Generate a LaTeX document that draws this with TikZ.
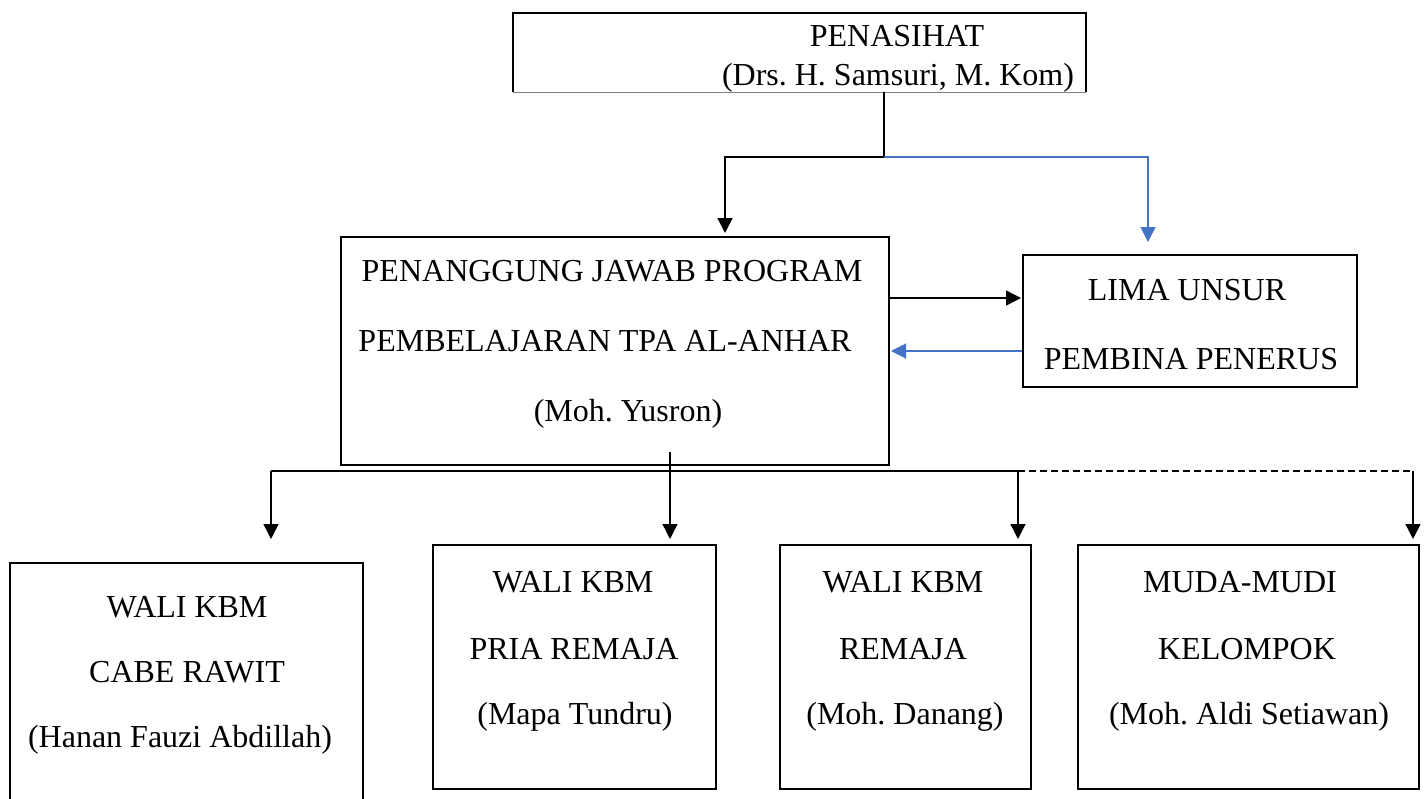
\documentclass[tikz,border=0pt]{standalone}
\usepackage{fontspec}
\setmainfont{Liberation Serif}
\usetikzlibrary{arrows.meta}
\definecolor{wordblue}{HTML}{4472C4}
\tikzset{
  box/.style={draw=black, line width=2pt, fill=none, inner sep=0pt},
  txt/.style={inner sep=0pt, font=\fontsize{32}{32}\selectfont\frenchspacing, anchor=base},
  conn/.style={line width=1.4pt, draw=black},
  tip/.style={-{Triangle[length=15pt,width=15pt]}},
}
\begin{document}
\begin{tikzpicture}[x=1pt,y=-1pt]
\useasboundingbox (0,0) rectangle (1426,798);
\fill[white] (0,0) rectangle (1426,798);
% top box
\node[inner sep=0pt, minimum width=573pt, minimum height=79pt] (pen) at (799.5,52.5) {};
\draw[line width=2pt] (pen.south west) -- (pen.north west) -- (pen.north east) -- (pen.south east);
\draw[line width=1pt, draw=gray] (pen.south west) -- (pen.south east);
\node[txt] (pent1) at (897,46) {PENASIHAT};
\node[txt] (pent2) at (898,85) {(Drs. H. Samsuri, M. Kom)};
% middle box
\node[box, minimum width=548pt, minimum height=228pt] (pj) at (615,351) {};
\node[txt] (pj1) at (612,281) {PENANGGUNG JAWAB PROGRAM};
\node[txt] (pj2) at (605,351) {PEMBELAJARAN TPA AL-ANHAR};
\node[txt] (pj3) at (628,421) {(Moh. Yusron)};
% lima box
\node[box, minimum width=334pt, minimum height=132pt] (lima) at (1190,321) {};
\node[txt] (lima1) at (1187,300) {LIMA UNSUR};
\node[txt] (lima2) at (1191,369) {PEMBINA PENERUS};
% bottom boxes
\node[box, minimum width=353pt, minimum height=260pt] (b1) at (186.5,693) {};
\node[txt] (b1a) at (187,617) {WALI KBM};
\node[txt] (b1b) at (187,682) {CABE RAWIT};
\node[txt] (b1c) at (180,747) {(Hanan Fauzi Abdillah)};
\node[box, minimum width=283pt, minimum height=244pt] (b2) at (574.5,667) {};
\node[txt] (b2a) at (573,592) {WALI KBM};
\node[txt] (b2b) at (574,659) {PRIA REMAJA};
\node[txt] (b2c) at (575,724) {(Mapa Tundru)};
\node[box, minimum width=251pt, minimum height=244pt] (b3) at (905.5,667) {};
\node[txt] (b3a) at (903,592) {WALI KBM};
\node[txt] (b3b) at (903,659) {REMAJA};
\node[txt] (b3c) at (905,724) {(Moh. Danang)};
\node[box, minimum width=341pt, minimum height=244pt] (b4) at (1248.5,667) {};
\node[txt] (b4a) at (1240,592) {MUDA-MUDI};
\node[txt] (b4b) at (1247,659) {KELOMPOK};
\node[txt] (b4c) at (1249,724) {(Moh. Aldi Setiawan)};
% connectors top
\coordinate (j1) at (884,157);
\coordinate (jl) at (725,157);
\coordinate (jr) at (1148,157);
\draw[conn] (pen.south -| j1) -- (j1);
\draw[conn, tip] (j1) -- (jl) -- (725,233);
\draw[conn, draw=wordblue, tip, line width=1.2pt] (j1) -- (jr) -- (1148,242);
% between pj and lima
\draw[conn, tip] (pj.east |- 0,298) -- (1021,298);
\draw[conn, draw=wordblue, tip, line width=1.2pt] (lima.west |- 0,351) -- (891,351);
% bottom connectors
\coordinate (k0) at (670,452);
\coordinate (k1) at (271,471);
\coordinate (k2) at (670,471);
\coordinate (k3) at (1018,471);
\coordinate (k4) at (1413,471);
\draw[conn] (k1) -- (k3);
\draw[conn, dash pattern=on 7pt off 4pt] (k3) -- (k4);
\draw[conn, tip] (k1) -- (271,539);
\draw[conn, tip] (k0) -- (670,539);
\draw[conn, tip] (k3) -- (1018,539);
\draw[conn, tip] (k4) -- (1413,539);
\end{tikzpicture}
\end{document}
